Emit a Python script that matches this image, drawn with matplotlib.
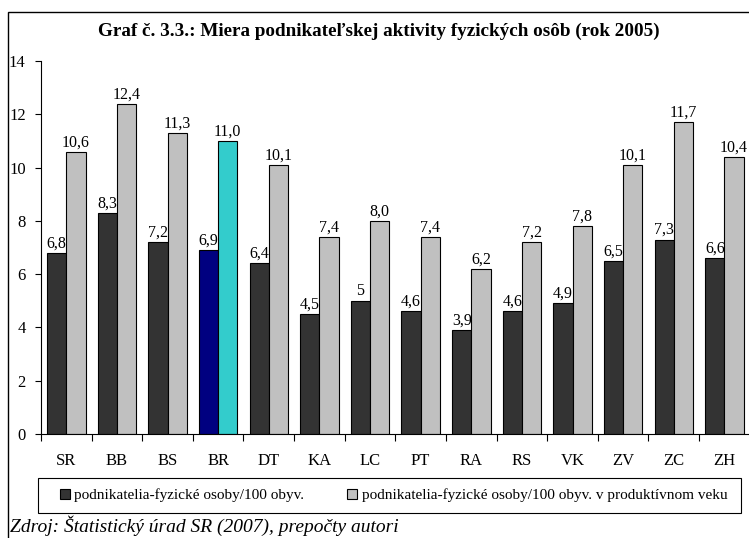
import matplotlib
matplotlib.use('Agg')
import matplotlib.pyplot as plt
from matplotlib.patches import Rectangle, Patch

# údaje z grafu
regiony = ['SR', 'BB', 'BS', 'BR', 'DT', 'KA', 'LC', 'PT', 'RA', 'RS', 'VK', 'ZV', 'ZC', 'ZH']
na_100_obyv = [6.8, 8.3, 7.2, 6.9, 6.4, 4.5, 5.0, 4.6, 3.9, 4.6, 4.9, 6.5, 7.3, 6.6]
na_100_prod = [10.6, 12.4, 11.3, 11.0, 10.1, 7.4, 8.0, 7.4, 6.2, 7.2, 7.8, 10.1, 11.7, 10.4]
popisky_obyv = ['6,8', '8,3', '7,2', '6,9', '6,4', '4,5', '5', '4,6', '3,9', '4,6', '4,9', '6,5', '7,3', '6,6']
popisky_prod = [f"{v:.1f}".replace('.', ',') for v in na_100_prod]
zvyrazneny = 'BR'

plt.rcParams['font.family'] = ['Liberation Serif', 'DejaVu Serif']

W, H = 749, 538
fig = plt.figure(figsize=(W / 100, H / 100), dpi=100)
ax = fig.add_axes([41 / W, 1 - 434 / H, 1 - 41 / W + 0.001, (434 - 61) / H])

sirka = 0.38
for i, reg in enumerate(regiony):
    c1 = '#000080' if reg == zvyrazneny else '#333333'
    c2 = '#33CCCC' if reg == zvyrazneny else '#C0C0C0'
    x = i + 0.5
    ax.bar(x - sirka / 2, na_100_obyv[i], sirka, color=c1, edgecolor='black', linewidth=0.8)
    ax.bar(x + sirka / 2, na_100_prod[i], sirka, color=c2, edgecolor='black', linewidth=0.8)
    ax.annotate(popisky_obyv[i], (x - sirka / 2, na_100_obyv[i]), xytext=(0, 1),
                textcoords='offset points', ha='center', va='bottom', fontsize=11.5)
    ax.annotate(popisky_prod[i], (x + sirka / 2, na_100_prod[i]), xytext=(0, 1),
                textcoords='offset points', ha='center', va='bottom', fontsize=11.5)

ax.set_xlim(0, len(regiony))
ax.set_ylim(0, 14)
ax.set_yticks(range(0, 15, 2))
ax.set_xticks([i + 0.5 for i in range(len(regiony))])
ax.set_xticklabels(regiony)
ax.set_xticks(range(len(regiony) + 1), minor=True)
ax.tick_params(axis='x', which='major', length=0, pad=14, labelsize=12)
ax.tick_params(axis='x', which='minor', length=5, direction='out', width=0.8)
ax.tick_params(axis='y', length=4, direction='out', width=0.8, labelsize=12, pad=7)
for s in ['top', 'right']:
    ax.spines[s].set_visible(False)
for s in ['left', 'bottom']:
    ax.spines[s].set_linewidth(0.8)
ax.patch.set_alpha(0)

fig.text(379 / W, 1 - 31 / H, 'Graf č. 3.3.: Miera podnikateľskej aktivity fyzických osôb (rok 2005)',
         ha='center', va='center', fontsize=13.8, fontweight='bold')

# legenda s vlastným rámom
fig.patches.append(Rectangle((38 / W, 1 - 513 / H), (741 - 38) / W, 35 / H, transform=fig.transFigure,
                             fill=False, edgecolor='black', linewidth=0.8))
handles = [Patch(facecolor='#333333', edgecolor='black', linewidth=0.8),
           Patch(facecolor='#C0C0C0', edgecolor='black', linewidth=0.8)]
fig.legend(handles, ['podnikatelia-fyzické osoby/100 obyv.',
                     'podnikatelia-fyzické osoby/100 obyv. v produktívnom veku'],
           loc='center', bbox_to_anchor=(393.5 / W, 1 - 495.5 / H),
           ncol=2, fontsize=11, frameon=False,
           handlelength=0.65, handleheight=0.65, handletextpad=0.3, borderaxespad=0,
           columnspacing=2.8, borderpad=0)

fig.text(10 / W, 1 - 526 / H, 'Zdroj: Štatistický úrad SR (2007), prepočty autori',
         ha='left', va='center', fontsize=14, style='italic')

fig.patches.append(Rectangle((8 / W, -0.05), 1.2, 1 - 12 / H + 0.05, transform=fig.transFigure,
                             fill=False, edgecolor='black', linewidth=1, clip_on=False))

plt.savefig('out.png', dpi=100)
plt.close()
